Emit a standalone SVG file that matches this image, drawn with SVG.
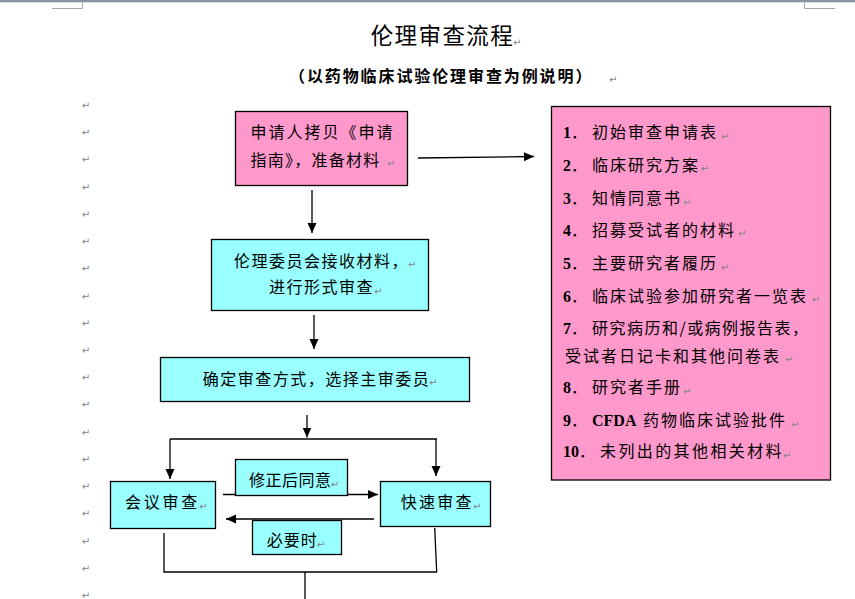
<svg xmlns="http://www.w3.org/2000/svg" width="855" height="599" viewBox="0 0 855 599">
<style>
.cjk{font-family:"Noto Sans CJK SC","Noto Sans",sans-serif;fill:#000}
.t16{font-size:16px}
.num{font-family:"Liberation Serif",serif;font-weight:bold;font-size:16px}
.pm{font-family:"DejaVu Sans",sans-serif;font-size:10px;fill:#858585}
.box{stroke:#000;stroke-width:1.3}
.pink{fill:#FF99CC}
.cyan{fill:#99FFFF}
.conn{stroke:#000;stroke-width:1.3;fill:none}
</style>
<defs>
<marker id="ah" markerUnits="userSpaceOnUse" markerWidth="11" markerHeight="10" refX="10" refY="4.5" orient="auto">
<path d="M0,0 L10,4.5 L0,9 z" fill="#000"/>
</marker>
</defs>
<rect width="855" height="599" fill="#fff"/>
<rect x="0" y="0" width="855" height="2.3" fill="#8a92a4"/>
<polyline points="52,8.5 82.5,8.5 82.5,2" fill="none" stroke="#a6a6a6" stroke-width="1"/>
<polyline points="804.5,2 804.5,8.5 835,8.5" fill="none" stroke="#a6a6a6" stroke-width="1"/>

<g id="title">
<text class="cjk" x="370.7" y="44" font-size="22.5" letter-spacing="1.4">伦理审查流程</text>
<text class="pm" x="513" y="45.5">↵</text>
<text class="cjk" x="289" y="82" font-size="16" font-weight="bold" letter-spacing="1.9">（以药物临床试验伦理审查为例说明）</text>
<text class="pm" x="609" y="83">↵</text>
</g>

<g id="margin-marks" class="pm" text-anchor="middle">
<text x="86" y="108.5">↵</text><text x="86" y="135.5">↵</text><text x="86" y="162.5">↵</text><text x="86" y="190.5">↵</text><text x="86" y="217.5">↵</text><text x="86" y="244.5">↵</text><text x="86" y="271.5">↵</text><text x="86" y="299.5">↵</text><text x="86" y="326.5">↵</text><text x="86" y="353.5">↵</text><text x="86" y="380.5">↵</text><text x="86" y="407.5">↵</text><text x="86" y="435.5">↵</text><text x="86" y="462.5">↵</text><text x="86" y="489.5">↵</text><text x="86" y="516.5">↵</text><text x="86" y="544.5">↵</text><text x="86" y="571.5">↵</text><text x="86" y="598.5">↵</text>
</g>

<g id="connectors">
<path class="conn" d="M418,158 L534,156.5" marker-end="url(#ah)"/>
<path class="conn" d="M312,190 V233" marker-end="url(#ah)"/>
<path class="conn" d="M314,315 V349" marker-end="url(#ah)"/>
<path class="conn" d="M307,415 V437.5" marker-end="url(#ah)"/>
<path class="conn" d="M170,439 H437"/>
<path class="conn" d="M170,439 V479" marker-end="url(#ah)"/>
<path class="conn" d="M436,439 V476" marker-end="url(#ah)"/>
<path class="conn" d="M223,494.5 H378" marker-end="url(#ah)"/>
<path class="conn" d="M374,519 H226" marker-end="url(#ah)"/>
<path class="conn" d="M164,533 V572 H437"/>
<path class="conn" d="M434.7,528 L436.7,572"/>
<path class="conn" d="M305,572 V599"/>
</g>

<g id="n-apply">
<rect class="box pink" x="235.5" y="111.5" width="172" height="74"/>
<text class="cjk t16" x="250.5" y="138.3" letter-spacing="2">申请人拷贝《申请</text>
<text class="cjk t16" x="250.5" y="165.5" letter-spacing="1.25">指南》，准备材料</text>
<text class="pm" x="387" y="166.5">↵</text>
</g>

<g id="n-receive">
<rect class="box cyan" x="211.5" y="239.5" width="217" height="71"/>
<text class="cjk t16" x="234" y="266.5" letter-spacing="1.5">伦理委员会接收材料，</text>
<text class="pm" x="408" y="267.5">↵</text>
<text class="cjk t16" x="269" y="293" letter-spacing="1.5">进行形式审查</text>
<text class="pm" x="374" y="294.5">↵</text>
</g>

<g id="n-decide">
<rect class="box cyan" x="160.5" y="357.5" width="309" height="44"/>
<text class="cjk t16" x="202.7" y="384.7" letter-spacing="1.5">确定审查方式，选择主审委员</text>
<text class="pm" x="429" y="386">↵</text>
</g>

<g id="n-meeting">
<rect class="box cyan" x="110.5" y="481.5" width="105" height="47"/>
<text class="cjk t16" x="125" y="508.3" letter-spacing="2.75">会议审查</text>
<text class="pm" x="199" y="509.5">↵</text>
</g>

<g id="n-fast">
<rect class="box cyan" x="380.5" y="481.5" width="110" height="45"/>
<text class="cjk t16" x="400.7" y="508" letter-spacing="2.3">快速审查</text>
<text class="pm" x="473" y="509.5">↵</text>
</g>

<g id="l-revise">
<rect class="box cyan" x="235.5" y="459.5" width="112" height="36"/>
<text class="cjk t16" x="249" y="486.3" letter-spacing="0.5">修正后同意</text>
<text class="pm" x="330.7" y="487.5">↵</text>
</g>

<g id="l-needed">
<rect class="box cyan" x="252.5" y="520.5" width="89" height="34"/>
<text class="cjk t16" x="266.7" y="546.3" letter-spacing="1">必要时</text>
<text class="pm" x="316.7" y="547.5">↵</text>
</g>

<g id="n-materials">
<rect class="box pink" x="551.5" y="106.5" width="279" height="373.5"/>
<text x="563" y="138.3"><tspan class="num">1</tspan><tspan class="cjk t16">．</tspan><tspan class="cjk t16" x="592" letter-spacing="2">初始审查申请表</tspan></text>
<text class="pm" x="721" y="139.5">↵</text>
<text x="563" y="170.7"><tspan class="num">2</tspan><tspan class="cjk t16">．</tspan><tspan class="cjk t16" x="592" letter-spacing="2">临床研究方案</tspan></text>
<text class="pm" x="700.7" y="172">↵</text>
<text x="563" y="204"><tspan class="num">3</tspan><tspan class="cjk t16">．</tspan><tspan class="cjk t16" x="592" letter-spacing="2">知情同意书</tspan></text>
<text class="pm" x="683" y="205.5">↵</text>
<text x="563" y="235.7"><tspan class="num">4</tspan><tspan class="cjk t16">．</tspan><tspan class="cjk t16" x="592" letter-spacing="2">招募受试者的材料</tspan></text>
<text class="pm" x="738" y="237">↵</text>
<text x="563" y="269"><tspan class="num">5</tspan><tspan class="cjk t16">．</tspan><tspan class="cjk t16" x="592" letter-spacing="2">主要研究者履历</tspan></text>
<text class="pm" x="720.7" y="270.5">↵</text>
<text x="563" y="301.7"><tspan class="num">6</tspan><tspan class="cjk t16">．</tspan><tspan class="cjk t16" x="592" letter-spacing="2">临床试验参加研究者一览表</tspan></text>
<text class="pm" x="811.7" y="303">↵</text>
<text x="563" y="334"><tspan class="num">7</tspan><tspan class="cjk t16">．</tspan><tspan class="cjk t16" x="592" textLength="216" lengthAdjust="spacing">研究病历和/或病例报告表，</tspan></text>
<text class="cjk t16" x="565" y="361.7" letter-spacing="2">受试者日记卡和其他问卷表</text>
<text class="pm" x="785" y="363">↵</text>
<text x="563" y="393"><tspan class="num">8</tspan><tspan class="cjk t16">．</tspan><tspan class="cjk t16" x="592" letter-spacing="2">研究者手册</tspan></text>
<text class="pm" x="683" y="394.5">↵</text>
<text x="563" y="426.3"><tspan class="num">9</tspan><tspan class="cjk t16">．</tspan><tspan class="num" x="592">CFDA</tspan><tspan class="cjk t16" x="643" letter-spacing="2">药物临床试验批件</tspan></text>
<text class="pm" x="791" y="427.5">↵</text>
<text x="563" y="457.3"><tspan class="num">10</tspan><tspan class="cjk t16">．</tspan><tspan class="cjk t16" x="600" letter-spacing="2.4">未列出的其他相关材料</tspan></text>
<text class="pm" x="783" y="458.5">↵</text>
</g>
</svg>
